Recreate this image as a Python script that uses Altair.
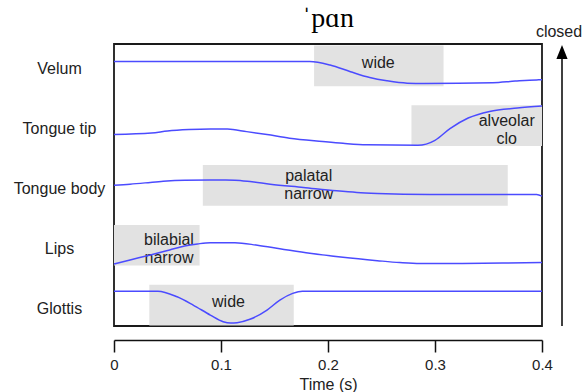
import json
import altair as alt
import pandas as pd

# ---------------- data ----------------
row_names = ["Glottis", "Lips", "Tongue body", "Tongue tip", "Velum"]  # bottom -> top

velum_t = [0, 0.183, 0.202, 0.221, 0.239, 0.255, 0.274, 0.29, 0.354, 0.375, 0.395, 0.4]
velum_v = [0.072, 0.072, 0.013, -0.098, -0.195, -0.25, -0.29, -0.295, -0.282, -0.255, -0.235, -0.233]

ttip_t = [0, 0.035, 0.05, 0.07, 0.09, 0.106, 0.124, 0.143, 0.164, 0.195, 0.214, 0.236,
          0.284, 0.3, 0.314, 0.331, 0.351, 0.377, 0.4]
ttip_v = [-0.15, -0.125, -0.09, -0.065, -0.055, -0.057, -0.1, -0.15, -0.21, -0.265, -0.295, -0.32,
          -0.328, -0.245, -0.05, 0.127, 0.238, 0.293, 0.327]

tbody_t = [0, 0.015, 0.029, 0.046, 0.066, 0.09, 0.113, 0.129, 0.146, 0.177, 0.208, 0.227,
           0.246, 0.295, 0.395, 0.4]
tbody_v = [0.005, 0.022, 0.043, 0.072, 0.088, 0.09, 0.088, 0.06, 0.022, -0.033, -0.09, -0.117,
           -0.133, -0.15, -0.15, -0.178]

lips_t = [0, 0.015, 0.034, 0.052, 0.066, 0.078, 0.09, 0.113, 0.134, 0.155, 0.183, 0.214,
          0.246, 0.267, 0.286, 0.345, 0.4]
lips_v = [-0.312, -0.245, -0.162, -0.078, -0.012, 0.022, 0.043, 0.043, 0.0, -0.057, -0.133, -0.2,
          -0.257, -0.29, -0.307, -0.3, -0.29]

glottis_t = [0, 0.041, 0.059, 0.074, 0.09, 0.102, 0.109, 0.115, 0.127, 0.143, 0.155, 0.167, 0.176, 0.4]
glottis_v = [0.233, 0.233, 0.138, 0.0, -0.167, -0.278, -0.3, -0.295, -0.238, -0.083, 0.083, 0.195, 0.233, 0.233]

box_rows = ["Velum", "Tongue tip", "Tongue body", "Lips", "Glottis"]
box_start = [0.187, 0.278, 0.083, 0.0, 0.033]
box_end = [0.308, 0.4, 0.368, 0.08, 0.168]
box_labels = ["wide", "alveolar\nclo", "palatal\nnarrow", "bilabial\nnarrow", "wide"]
label_t = [0.247, 0.367, 0.182, 0.0514, 0.107]
label_dy = [-0.032, -0.007, 0.077, 0.005, -0.028]

tick_values = [0, 0.1, 0.2, 0.3, 0.4]
title_text = "ˈpɑn"
x_title = "Time (s)"
arrow_label = "closed"

# ---------------- tables ----------------
traj = {
    "Velum": (velum_t, velum_v),
    "Tongue tip": (ttip_t, ttip_v),
    "Tongue body": (tbody_t, tbody_v),
    "Lips": (lips_t, lips_v),
    "Glottis": (glottis_t, glottis_v),
}
recs = []
for name, (ts, vs) in traj.items():
    idx = row_names.index(name)
    for t, v in zip(ts, vs):
        recs.append({"row": name, "t": t, "y": idx + v})
lines_df = pd.DataFrame(recs)

HALF = 0.34
boxes_df = pd.DataFrame({"row": box_rows, "start": box_start, "end": box_end,
                         "label": box_labels, "lt": label_t, "ldy": label_dy})
boxes_df["yc"] = boxes_df["row"].map(row_names.index)
boxes_df["y0"] = boxes_df["yc"] - HALF
boxes_df["y1"] = boxes_df["yc"] + HALF
boxes_df["ly"] = boxes_df["yc"] + boxes_df["ldy"]

one = pd.DataFrame({"a": [0]})

FONT = "Liberation Sans"
x_scale = alt.Scale(domain=[0, 0.4], nice=False, zero=False)
y_scale = alt.Scale(domain=[-0.35, 4.365], nice=False, zero=False)

x_axis = alt.Axis(values=tick_values, format="~g", offset=14, tickSize=12, tickWidth=1.5,
                  tickColor="#111", domainColor="#111", domainWidth=1.5, grid=False,
                  labelFont=FONT, labelFontSize=15, labelColor="#222", labelPadding=5,
                  labelFlush=False, title=x_title, titleFont=FONT, titleFontSize=16,
                  titleFontWeight="normal", titleColor="#222", titlePadding=4)
y_axis = alt.Axis(values=list(range(len(row_names))),
                  labelExpr=json.dumps(row_names) + "[datum.value]",
                  ticks=False, domain=False, grid=False, labelAlign="center",
                  labelBaseline="middle", labelPadding=55, labelOffset=3,
                  labelFont=FONT, labelFontSize=16, labelColor="#222", title=None)

boxes = alt.Chart(boxes_df).mark_rect(color="#e2e2e2").encode(
    x=alt.X("start:Q", scale=x_scale, axis=x_axis), x2="end:Q",
    y=alt.Y("y0:Q", scale=y_scale, axis=y_axis), y2="y1:Q")

labels = alt.Chart(boxes_df).mark_text(font=FONT, fontSize=16, color="#222", lineBreak="\n",
                                       baseline="alphabetic", align="center", lineHeight=18).encode(
    x=alt.X("lt:Q", scale=x_scale), y=alt.Y("ly:Q", scale=y_scale), text="label:N")

lines = alt.Chart(lines_df).mark_line(color="#4b4bff", strokeWidth=1.5, interpolate="monotone").encode(
    x=alt.X("t:Q", scale=x_scale), y=alt.Y("y:Q", scale=y_scale), detail="row:N")

arrow_stem = alt.Chart(one).mark_rule(color="black", strokeWidth=1.5).encode(
    x=alt.value(448), y=alt.value(10), y2=alt.value(282))
arrow_head = alt.Chart(one).mark_point(shape="M0,-1L0.8,1L-0.8,1Z", filled=True, color="black",
                                       opacity=1, size=196, strokeWidth=0).encode(
    x=alt.value(448), y=alt.value(8))
arrow_text = alt.Chart(one).mark_text(text=arrow_label, font=FONT, fontSize=16, color="#222",
                                      align="center", baseline="alphabetic").encode(
    x=alt.value(445), y=alt.value(-7))
title_mark = alt.Chart(one).mark_text(text=title_text, font="Liberation Serif", fontSize=28,
                                      color="black", align="center", baseline="alphabetic").encode(
    x=alt.value(214), y=alt.value(-17))

chart = alt.layer(boxes, labels, lines, arrow_stem, arrow_head, arrow_text, title_mark).properties(
    width=428, height=282,
    autosize=alt.AutoSizeParams(type="none"),
    padding={"left": 114, "top": 44, "right": 42, "bottom": 66},
    background="white",
).configure_view(stroke="#1a1a1a", strokeWidth=1.8)

chart.save("out.html", embed_options={"renderer": "svg", "actions": False})
